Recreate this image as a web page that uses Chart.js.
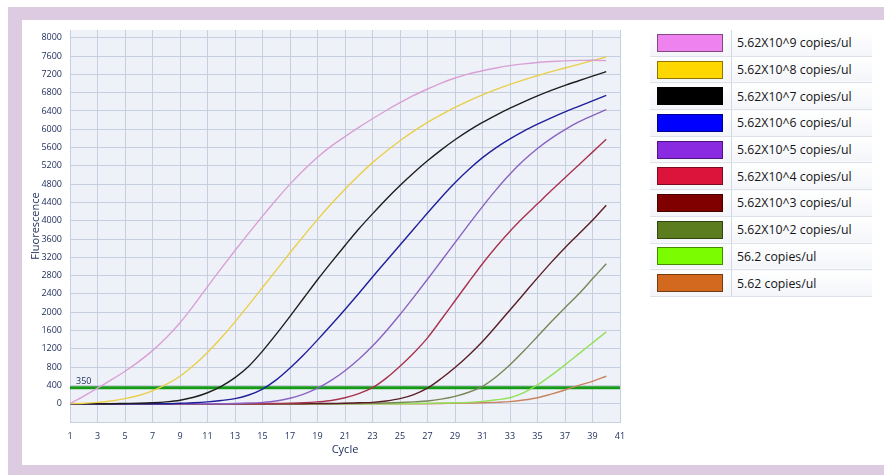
<!DOCTYPE html>
<html>
<head>
<meta charset="utf-8">
<script src="https://cdn.jsdelivr.net/npm/chart.js@4.4.1/dist/chart.umd.min.js"></script>
<style>
  body { margin: 0; width: 884px; height: 475px; background: #fff; position: relative; overflow: hidden; font-family: "Open Sans", "Liberation Sans", sans-serif; }
  #frame { position: absolute; left: 8px; top: 7px; right: 0; bottom: 0; background: #ddcbe1; }
  #panel { position: absolute; left: 22px; top: 20px; right: 0; bottom: 10px; background: #fff; }
  #qpcr { position: absolute; left: 0; top: 0; }
  #legend { position: absolute; left: 650px; top: 30px; width: 222px; border-collapse: collapse; }
  #legend td { height: 25.7px; padding: 0; border-bottom: 1px solid #dde2ea; background: linear-gradient(#ffffff, #f3f5f9); }
  #legend td.sw { width: 81px; border-right: 1px solid #d3d9e3; }
  #legend td.sw div { width: 64px; height: 16px; margin-left: 7px; border: 1px solid rgba(0,0,0,0.45); }
  #legend td.tx { padding-left: 5px; font-size: 12.3px; color: #151515; white-space: nowrap; }
</style>
</head>
<body>
<div id="frame"></div>
<div id="panel"></div>
<canvas id="qpcr" width="642" height="475"></canvas>
<table id="legend"></table>
<script>
document.addEventListener("DOMContentLoaded", function () {
  const cycles = [1, 2, 3, 4, 5, 6, 7, 8, 9, 10, 11, 12, 13, 14, 15, 16, 17, 18, 19, 20,
    21, 22, 23, 24, 25, 26, 27, 28, 29, 30, 31, 32, 33, 34, 35, 36, 37, 38, 39, 40];

  const seriesLabels = [
    "5.62X10^9 copies/ul", "5.62X10^8 copies/ul", "5.62X10^7 copies/ul",
    "5.62X10^6 copies/ul", "5.62X10^5 copies/ul", "5.62X10^4 copies/ul",
    "5.62X10^3 copies/ul", "5.62X10^2 copies/ul", "56.2 copies/ul", "5.62 copies/ul",
  ];

  // fluorescence per cycle
  const e9 = [0, 165, 340, 520, 710, 920, 1160, 1440, 1770, 2150, 2560, 2960, 3350, 3730, 4100, 4460, 4800, 5110, 5390, 5630,
    5840, 6040, 6230, 6410, 6580, 6740, 6880, 7010, 7120, 7210, 7280, 7340, 7390, 7430, 7460, 7480, 7495, 7505, 7510, 7500];
  const e8 = [0, 10, 30, 60, 110, 180, 280, 420, 600, 840, 1120, 1440, 1790, 2160, 2540, 2920, 3300, 3670, 4030, 4370,
    4690, 4990, 5270, 5520, 5750, 5960, 6150, 6320, 6480, 6620, 6750, 6870, 6980, 7080, 7170, 7260, 7340, 7420, 7500, 7580];
  const e7 = [0, 0, 0, 0, 5, 10, 20, 40, 75, 140, 240, 380, 570, 820, 1150, 1520, 1910, 2310, 2710, 3090,
    3460, 3820, 4150, 4470, 4770, 5050, 5310, 5550, 5770, 5970, 6150, 6310, 6460, 6600, 6730, 6850, 6960, 7060, 7160, 7260];
  const e6 = [0, 0, 0, 0, 0, 0, 0, 0, 10, 20, 40, 70, 110, 190, 320, 520, 780, 1070, 1390, 1720,
    2060, 2410, 2770, 3120, 3470, 3820, 4170, 4510, 4830, 5120, 5380, 5600, 5790, 5960, 6110, 6250, 6380, 6500, 6620, 6740];
  const e5 = [0, 0, 0, 0, 0, 0, 0, 0, 0, 0, 0, 0, 5, 15, 30, 60, 120, 210, 340, 510,
    720, 970, 1260, 1590, 1950, 2330, 2720, 3120, 3520, 3920, 4310, 4680, 5020, 5320, 5580, 5800, 5990, 6160, 6300, 6430];
  const e4 = [0, 0, 0, 0, 0, 0, 0, 0, 0, 0, 0, 0, 0, 0, 0, 5, 10, 20, 40, 70,
    130, 220, 350, 560, 820, 1110, 1440, 1840, 2250, 2660, 3060, 3430, 3770, 4080, 4370, 4660, 4940, 5220, 5500, 5780];
  const e3 = [0, 0, 0, 0, 0, 0, 0, 0, 0, 0, 0, 0, 0, 0, 0, 0, 0, 0, 5, 5,
    10, 20, 30, 60, 110, 200, 340, 550, 790, 1060, 1360, 1700, 2050, 2400, 2750, 3090, 3410, 3710, 4010, 4340];
  const e2 = [0, 0, 0, 0, 0, 0, 0, 0, 0, 0, 0, 0, 0, 0, 0, 0, 0, 0, 0, 0,
    5, 5, 10, 15, 25, 40, 60, 100, 160, 250, 380, 590, 850, 1150, 1470, 1790, 2100, 2400, 2730, 3060];
  const e1 = [0, 0, 0, 0, 0, 0, 0, 0, 0, 0, 0, 0, 0, 0, 0, 0, 0, 0, 0, 0,
    0, 0, 0, 0, 0, 5, 10, 15, 20, 30, 50, 85, 130, 240, 410, 620, 850, 1090, 1330, 1570];
  const e0 = [0, 0, 0, 0, 0, 0, 0, 0, 0, 0, 0, 0, 0, 0, 0, 0, 0, 0, 0, 0,
    0, 0, 0, 0, 0, 0, 0, 5, 10, 15, 20, 30, 45, 80, 130, 210, 300, 400, 490, 600];
  const seriesValues = [e9, e8, e7, e6, e5, e4, e3, e2, e1, e0];

  const threshold = 350;
  const yTicks = [0, 400, 800, 1200, 1600, 2000, 2400, 2800, 3200, 3600, 4000,
    4400, 4800, 5200, 5600, 6000, 6400, 6800, 7200, 7600, 8000];
  const xTicks = [1, 3, 5, 7, 9, 11, 13, 15, 17, 19, 21, 23, 25, 27, 29, 31, 33, 35, 37, 39, 41];

  const legendColors = ["#ee82ee", "#ffd700", "#000000", "#0000ff", "#8a2be2",
    "#dc143c", "#800000", "#5b7d1f", "#7cfc00", "#d2691e"];
  const lineColors = ["#d9a0d6", "#e8cf4a", "#1e1e1e", "#1f1f9a", "#8a62c2",
    "#a8334f", "#5a1e26", "#7a8557", "#93e05a", "#c9845f"];

  const legend = document.getElementById("legend");
  seriesLabels.forEach((label, i) => {
    const row = document.createElement("tr");
    row.innerHTML = `<td class="sw"><div style="background:${legendColors[i]}"></div></td><td class="tx">${label}</td>`;
    legend.appendChild(row);
  });

  const textColor = "#1b2a58";
  const gridColor = "#c5cfdf";

  const datasets = seriesValues.map((vals, i) => ({
    label: seriesLabels[i],
    data: vals.map((v, k) => ({ x: cycles[k], y: v })),
    borderColor: lineColors[i],
    borderWidth: 1.4,
    pointRadius: 0,
    cubicInterpolationMode: "monotone",
    fill: false,
  }));
  datasets.push({
    label: "Threshold",
    data: [{ x: 1, y: threshold }, { x: 41, y: threshold }],
    borderColor: "#179a17",
    borderWidth: 3,
    pointRadius: 0,
    fill: false,
  });

  // plot background + threshold label
  const plotDecor = {
    id: "plotDecor",
    beforeDraw(chart) {
      const { ctx, chartArea } = chart;
      ctx.save();
      ctx.fillStyle = "#eef2f8";
      ctx.fillRect(chartArea.left, chartArea.top, chartArea.right - chartArea.left, chartArea.bottom - chartArea.top);
      ctx.restore();
    },
    afterDatasetsDraw(chart) {
      const { ctx, chartArea, scales } = chart;
      ctx.save();
      ctx.fillStyle = textColor;
      ctx.font = "9px 'Open Sans'";
      ctx.textBaseline = "bottom";
      ctx.fillText(String(threshold), chartArea.left + 6, scales.y.getPixelForValue(threshold) - 2);
      ctx.restore();
    },
  };

  new Chart(document.getElementById("qpcr").getContext("2d"), {
    type: "line",
    data: { datasets: datasets },
    plugins: [plotDecor],
    options: {
      responsive: false,
      animation: false,
      layout: { padding: { left: 22, top: 30, right: 22, bottom: 0 } },
      plugins: { legend: { display: false }, tooltip: { enabled: false } },
      scales: {
        x: {
          type: "linear",
          min: 1,
          max: 41,
          afterBuildTicks: (scale) => { scale.ticks = xTicks.map((v) => ({ value: v })); },
          afterFit: (scale) => { scale.height = 53; },
          grid: { color: gridColor, drawTicks: false },
          border: { color: gridColor },
          ticks: { color: textColor, font: { family: "Open Sans", size: 9 }, padding: 9, maxRotation: 0, autoSkip: false, callback: (v) => String(v) },
          title: { display: true, text: "Cycle", color: textColor, font: { family: "Open Sans", size: 11 }, padding: { top: 0, bottom: 19 } },
        },
        y: {
          min: -400,
          max: 8170,
          afterBuildTicks: (scale) => { scale.ticks = yTicks.map((v) => ({ value: v })); },
          afterFit: (scale) => { scale.width = 48; },
          grid: { color: gridColor, drawTicks: false },
          border: { color: gridColor },
          ticks: { color: textColor, font: { family: "Open Sans", size: 9 }, padding: 8, callback: (v) => String(v) },
          title: { display: true, text: "Fluorescence", color: textColor, font: { family: "Open Sans", size: 11 }, padding: { top: 7, bottom: 0 } },
        },
      },
    },
  });
});
</script>
</body>
</html>
